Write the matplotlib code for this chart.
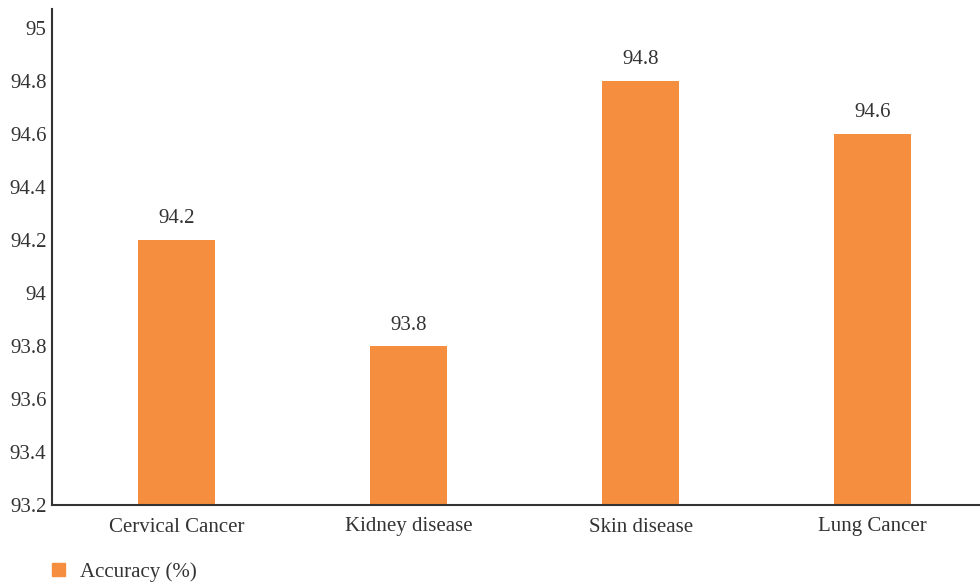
import matplotlib.pyplot as plt
from matplotlib.patches import Patch

# Accuracy per disease dataset
categories = ['Cervical Cancer', 'Kidney disease', 'Skin disease', 'Lung Cancer']
accuracy = [94.2, 93.8, 94.8, 94.6]
y_ticks = [93.2, 93.4, 93.6, 93.8, 94, 94.2, 94.4, 94.6, 94.8, 95]

bar_color = '#F58F3F'
text_color = '#333333'

plt.rcParams['font.family'] = ['Liberation Serif', 'DejaVu Serif']

fig = plt.figure(figsize=(9.8, 5.84), dpi=100)
ax = fig.add_axes([52 / 980, 79 / 584, 928 / 980, 496 / 584])

x = range(len(categories))
ax.bar(x, [v - 93.2 for v in accuracy], bottom=93.2, width=0.33, color=bar_color)

for xi, v in zip(x, accuracy):
    ax.annotate(f'{v}', (xi, v), xytext=(0, 15), textcoords='offset points',
                ha='center', va='center', fontsize=15, color=text_color)

ax.set_xlim(-0.537, 3.463)
ax.set_ylim(93.2, 95.07)
ax.set_xticks(list(x))
ax.set_xticklabels(categories)
ax.set_yticks(y_ticks)
ax.set_yticklabels([f'{t:g}' for t in y_ticks])
ax.tick_params(axis='both', length=0, labelsize=15, colors=text_color)
ax.tick_params(axis='x', pad=9)
ax.tick_params(axis='y', pad=4)

for side in ['top', 'right']:
    ax.spines[side].set_visible(False)
for side in ['left', 'bottom']:
    ax.spines[side].set_color(text_color)
    ax.spines[side].set_linewidth(1.5)

fig.legend(handles=[Patch(color=bar_color, label='Accuracy (%)')],
           loc='center left', bbox_to_anchor=(52 / 980, 12 / 584), frameon=False,
           borderpad=0, borderaxespad=0,
           fontsize=15, handlelength=0.6, handleheight=0.6, handletextpad=0.75,
           labelcolor=text_color)

fig.savefig('out.png', dpi=100)
